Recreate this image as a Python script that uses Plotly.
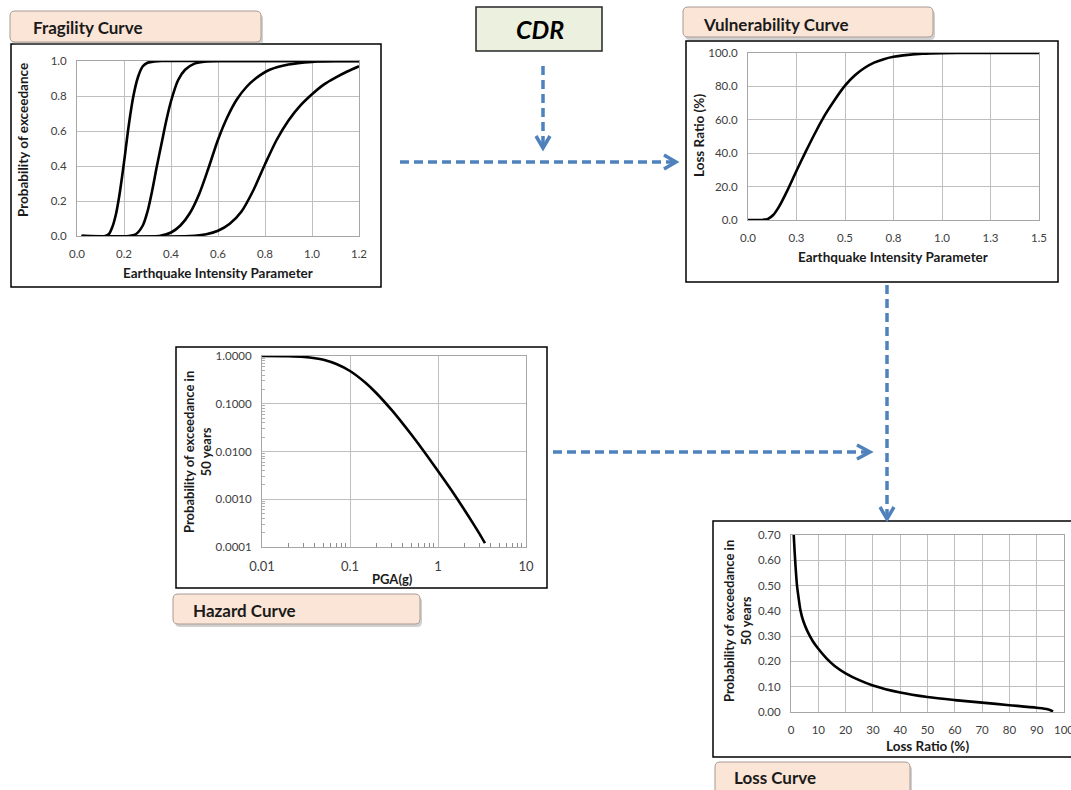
import plotly.graph_objects as go

W, H = 1071, 790

# ---------------- data ----------------
frag1_x = [0.02, 0.12, 0.135, 0.15, 0.165, 0.18, 0.20, 0.22, 0.24, 0.26, 0.28, 0.30, 0.33, 0.37, 1.2]
frag1_y = [0.0, 0.0, 0.01, 0.05, 0.12, 0.23, 0.42, 0.63, 0.80, 0.91, 0.97, 0.99, 0.998, 1.0, 1.0]

frag2_x = [0.02, 0.22, 0.25, 0.28, 0.30, 0.32, 0.34, 0.36, 0.38, 0.40, 0.43, 0.46, 0.50, 0.55, 0.62, 1.2]
frag2_y = [0.0, 0.0, 0.01, 0.06, 0.14, 0.26, 0.40, 0.53, 0.66, 0.77, 0.89, 0.95, 0.985, 0.997, 1.0, 1.0]

frag3_x = [0.02, 0.35, 0.40, 0.44, 0.48, 0.52, 0.56, 0.60, 0.64, 0.68, 0.72, 0.76, 0.82, 0.90, 1.0, 1.1, 1.2]
frag3_y = [0.0, 0.0, 0.02, 0.06, 0.13, 0.24, 0.39, 0.55, 0.68, 0.78, 0.85, 0.90, 0.95, 0.98, 0.995, 1.0, 1.0]

frag4_x = [0.02, 0.48, 0.55, 0.60, 0.65, 0.70, 0.75, 0.80, 0.85, 0.90, 0.95, 1.0, 1.05, 1.10, 1.15, 1.2]
frag4_y = [0.0, 0.0, 0.01, 0.03, 0.07, 0.14, 0.26, 0.41, 0.55, 0.66, 0.745, 0.81, 0.865, 0.905, 0.94, 0.97]

vuln_x = [0.0, 0.05, 0.10, 0.13, 0.16, 0.20, 0.25, 0.30, 0.35, 0.40, 0.45, 0.50, 0.55, 0.60,
          0.65, 0.70, 0.75, 0.80, 0.90, 1.0, 1.1, 1.5]
vuln_y = [0.0, 0.0, 0.5, 3, 8, 17, 29.5, 41.5, 53, 63.5, 72.5, 80.5, 86.5, 91,
          94.2, 96.3, 97.7, 98.6, 99.6, 99.95, 100, 100]

haz_pga = [0.01, 0.02, 0.03, 0.04, 0.05, 0.07, 0.10, 0.15, 0.20, 0.30, 0.40, 0.50, 0.70,
           1.0, 1.5, 2.0, 2.5, 3.0, 3.42]
haz_prob = [1.0, 0.987, 0.955, 0.90, 0.834, 0.68, 0.485, 0.275, 0.166, 0.0724, 0.0379, 0.0224,
            0.0098, 0.0039, 0.00134, 0.000597, 0.000313, 0.000182, 0.00012]

loss_lr = [1.0, 1.3, 1.7, 2.2, 2.8, 3.5, 4.5, 6, 8, 10, 13, 16, 20, 25, 30, 40, 50, 60, 70, 80,
           90, 94, 96]
loss_prob = [0.70, 0.64, 0.57, 0.50, 0.45, 0.40, 0.36, 0.32, 0.28, 0.25, 0.212, 0.182, 0.153,
             0.126, 0.105, 0.077, 0.059, 0.047, 0.037, 0.027, 0.017, 0.011, 0.002]

frag_xticks = [0.0, 0.2, 0.4, 0.6, 0.8, 1.0, 1.2]
vuln_xtickvals = [0.0, 0.25, 0.5, 0.75, 1.0, 1.25, 1.5]
vuln_xticktext = ["0.0", "0.3", "0.5", "0.8", "1.0", "1.3", "1.5"]
haz_xtickvals = [0.01, 0.1, 1, 10]
haz_xticktext = ["0.01", "0.1", "1", "10"]
haz_ytickvals = [0.0001, 0.001, 0.01, 0.1, 1.0]
haz_yticktext = ["0.0001", "0.0010", "0.0100", "0.1000", "1.0000"]
haz_x_minor = [m * d for d in [0.01, 0.1, 1] for m in range(2, 10)]
haz_y_minor = [m * d for d in [0.0001, 0.001, 0.01, 0.1] for m in range(2, 10)]

# ---------------- helpers ----------------
def X(p):
    return p / W


def Y(p):
    return 1 - p / H


FONT = "Lato"
ARROW = "#4F81BD"

fig = go.Figure()

line_style = dict(color="black", width=2.6, shape="spline", smoothing=0.8)
for xs, ys in [(frag1_x, frag1_y), (frag2_x, frag2_y), (frag3_x, frag3_y), (frag4_x, frag4_y)]:
    fig.add_trace(go.Scatter(x=xs, y=ys, mode="lines", line=line_style,
                             xaxis="x", yaxis="y", showlegend=False, hoverinfo="skip"))
fig.add_trace(go.Scatter(x=vuln_x, y=vuln_y, mode="lines", line=line_style,
                         xaxis="x2", yaxis="y2", showlegend=False, hoverinfo="skip"))
fig.add_trace(go.Scatter(x=haz_pga, y=haz_prob, mode="lines",
                         line=dict(color="black", width=2.6, shape="spline", smoothing=0.8),
                         xaxis="x3", yaxis="y3", showlegend=False, hoverinfo="skip"))
fig.add_trace(go.Scatter(x=loss_lr, y=loss_prob, mode="lines",
                         line=dict(color="black", width=2.6, shape="spline", smoothing=0.8),
                         xaxis="x4", yaxis="y4", showlegend=False, hoverinfo="skip"))

common = dict(showgrid=True, gridcolor="#BFBFBF", gridwidth=1, zeroline=False,
              showline=True, linecolor="#A6A6A6", linewidth=1, mirror=True,
              ticks="outside", ticklen=7, tickcolor="rgba(0,0,0,0)", automargin=False,
              tickfont=dict(family=FONT, size=11.5, color="#404040"), fixedrange=True)

layout_axes = dict(
    xaxis=dict(common, domain=[X(77), X(359)], range=[0, 1.2], tickvals=frag_xticks,
               tickformat=".1f", anchor="y"),
    yaxis=dict(common, domain=[Y(236), Y(61)], range=[0, 1.0], dtick=0.2,
               tickformat=".1f", anchor="x"),
    xaxis2=dict(common, domain=[X(748), X(1039)], range=[0, 1.5], tickvals=vuln_xtickvals,
                ticktext=vuln_xticktext, anchor="y2"),
    yaxis2=dict(common, domain=[Y(220), Y(53)], range=[0, 100], dtick=20,
                tickformat=".1f", anchor="x2"),
    xaxis3=dict(common, domain=[X(262), X(526)], type="log", range=[-2, 1],
                tickvals=haz_xtickvals, ticktext=haz_xticktext, anchor="y3",
                tickfont=dict(family=FONT, size=13, color="#404040"),
                minor=dict(tickmode="array", tickvals=haz_x_minor, ticks="inside", ticklen=4,
                           tickcolor="#8C8C8C", showgrid=False)),
    yaxis3=dict(common, domain=[Y(547), Y(356)], type="log", range=[-4, 0],
                tickvals=haz_ytickvals, ticktext=haz_yticktext, anchor="x3",
                minor=dict(tickmode="array", tickvals=haz_y_minor, ticks="inside", ticklen=3,
                           tickcolor="#B0B0B0", showgrid=False)),
    xaxis4=dict(common, domain=[X(791), X(1064)], range=[0, 100], dtick=10, anchor="y4",
                ticklabeloverflow="allow"),
    yaxis4=dict(common, domain=[Y(712), Y(535)], range=[0, 0.70], dtick=0.1,
                tickformat=".2f", anchor="x4"),
)

shapes = []


def rect(x0, y0, x1, y1, **kw):
    d = dict(type="rect", xref="paper", yref="paper", x0=X(x0), x1=X(x1), y0=Y(y1), y1=Y(y0))
    d.update(kw)
    shapes.append(d)


def rrect_path(x0, y0, x1, y1, r):
    return (f"M {X(x0 + r)},{Y(y0)} L {X(x1 - r)},{Y(y0)} Q {X(x1)},{Y(y0)} {X(x1)},{Y(y0 + r)} "
            f"L {X(x1)},{Y(y1 - r)} Q {X(x1)},{Y(y1)} {X(x1 - r)},{Y(y1)} "
            f"L {X(x0 + r)},{Y(y1)} Q {X(x0)},{Y(y1)} {X(x0)},{Y(y1 - r)} "
            f"L {X(x0)},{Y(y0 + r)} Q {X(x0)},{Y(y0)} {X(x0 + r)},{Y(y0)} Z")


def label_box(x0, y0, x1, y1):
    shapes.append(dict(type="path", xref="paper", yref="paper",
                       path=rrect_path(x0 + 2, y0 + 3, x1 + 2, y1 + 3, 5),
                       fillcolor="rgba(120,120,120,0.35)", line=dict(width=0), layer="above"))
    shapes.append(dict(type="path", xref="paper", yref="paper",
                       path=rrect_path(x0, y0, x1, y1, 5),
                       fillcolor="#FBE5D6", line=dict(color="#A89A92", width=1), layer="above"))


def dashed(x0, y0, x1, y1):
    shapes.append(dict(type="line", xref="paper", yref="paper", x0=X(x0), y0=Y(y0),
                       x1=X(x1), y1=Y(y1), line=dict(color=ARROW, width=3.5, dash="9px,5px")))


def head(points):
    path = "M " + " L ".join(f"{X(a)},{Y(b)}" for a, b in points)
    shapes.append(dict(type="path", xref="paper", yref="paper", path=path,
                       line=dict(color=ARROW, width=3.5)))


# chart frames
rect(11, 44, 381, 287, line=dict(color="black", width=1.5))
rect(686, 41, 1058, 282, line=dict(color="black", width=1.5))
rect(176, 347, 547, 588, line=dict(color="black", width=1.5))
rect(713, 521, 1076, 757, line=dict(color="black", width=1.5))

# CDR box
rect(476, 7, 602, 51, fillcolor="#EBF1DE", line=dict(color="#262626", width=1.5))

# label boxes
label_box(10, 11, 261, 42)
label_box(683, 7, 933, 37)
label_box(173, 594, 420, 624)
label_box(715, 762, 910, 800)

# arrows
dashed(543, 66, 543, 146)
head([(536, 136), (543, 148), (550, 136)])
dashed(400, 162, 674, 162)
head([(664, 155), (676, 162), (664, 169)])
dashed(887, 285, 887, 517)
head([(880, 507), (887, 519), (894, 507)])
dashed(553, 452, 869, 452)
head([(857, 445), (870, 452), (857, 459)])

annotations = []


def text(x, y, s, size=12, bold=True, angle=0, xanchor="center", italic=False, color="#1A1A1A"):
    t = f"<b>{s}</b>" if bold else s
    if italic:
        t = f"<i>{t}</i>"
    annotations.append(dict(x=X(x), y=Y(y), xref="paper", yref="paper", text=t, showarrow=False,
                            textangle=angle, xanchor=xanchor, yanchor="middle",
                            font=dict(family=FONT, size=size, color=color)))


text(31, 28, "Fragility Curve", size=17, xanchor="left")
text(701, 24, "Vulnerability Curve", size=17, xanchor="left")
text(191, 610, "Hazard Curve", size=17, xanchor="left")
text(732, 777, "Loss Curve", size=17, xanchor="left")
text(540, 29, "CDR", size=25, italic=True, color="#000000")

text(23, 140, "Probability of exceedance", size=13.5, angle=-90)
text(218, 273, "Earthquake Intensity Parameter", size=13.5)
text(699, 136, "Loss Ratio (%)", size=13.5, angle=-90)
text(893, 257, "Earthquake Intensity Parameter", size=13.5)
text(197, 452, "Probability of exceedance in<br>50 years", size=13, angle=-90)
text(393, 579, "PGA(g)", size=13)
text(737, 621, "Probability of exceedance in<br>50 years", size=13, angle=-90)
text(927, 746, "Loss Ratio (%)", size=13.5)

fig.update_layout(
    width=W, height=H, margin=dict(l=0, r=0, t=0, b=0, autoexpand=False),
    paper_bgcolor="white", plot_bgcolor="white",
    shapes=shapes, annotations=annotations, showlegend=False,
    **layout_axes,
)

fig.write_html("out.html", config={"displayModeBar": False})
